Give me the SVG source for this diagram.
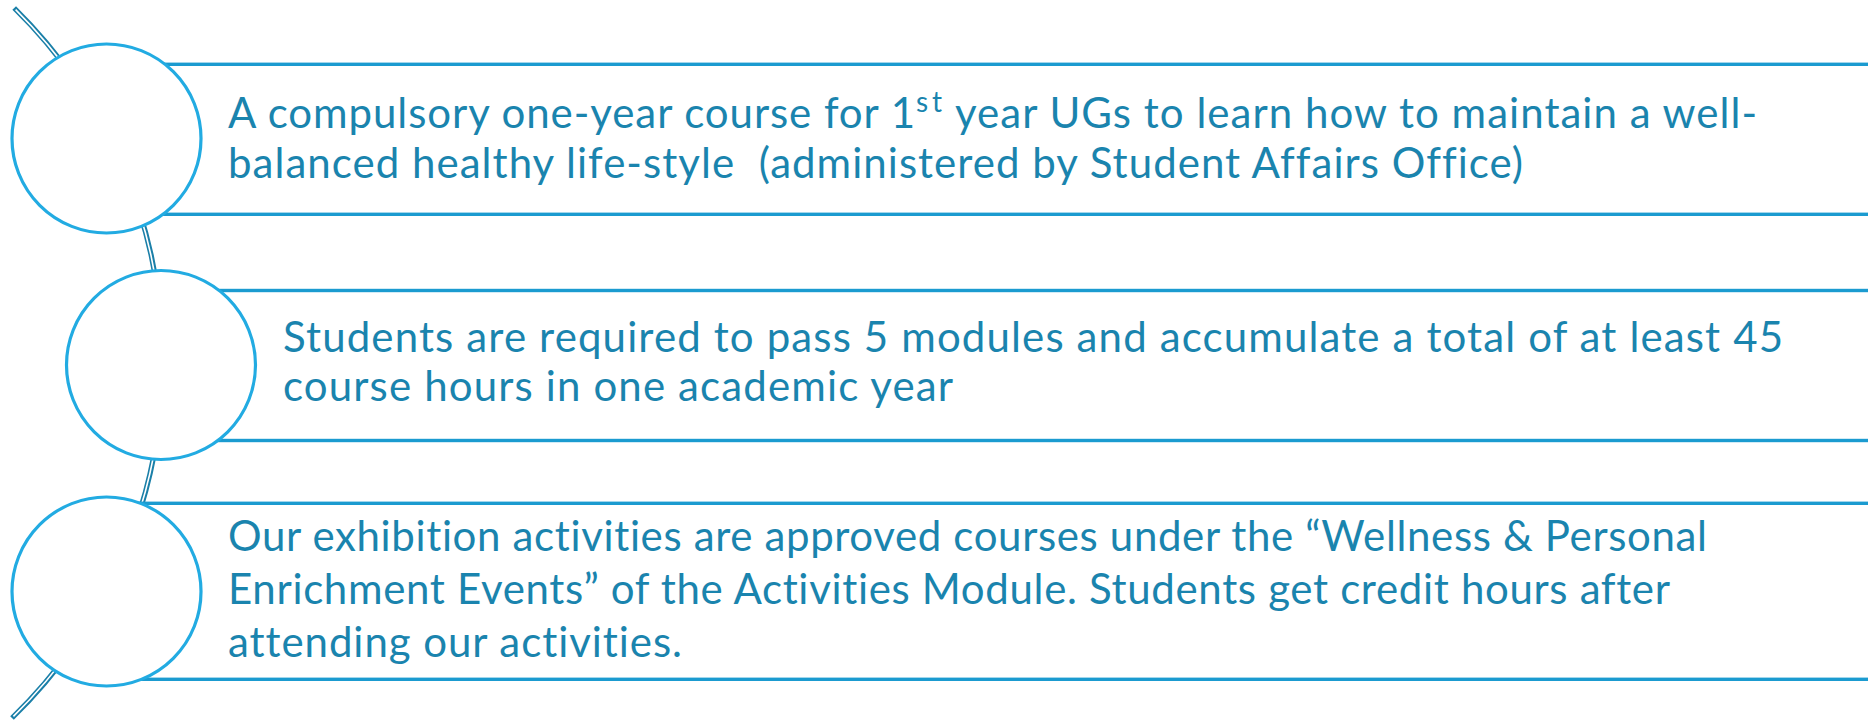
<svg xmlns="http://www.w3.org/2000/svg" width="1868" height="722" viewBox="0 0 1868 722">
<style>
.band{fill:#ffffff;stroke:#1b9bd0;stroke-width:3.4}
.node{fill:#ffffff;stroke:#22abe2;stroke-width:3.2}
.arcOut{fill:none;stroke:#1a7fa8;stroke-width:5.2}
.arcIn{fill:none;stroke:#ffffff;stroke-width:1.6}
.t{font-family:Lato,"Open Sans","Liberation Sans",sans-serif;font-size:42px;fill:#1a84ae;white-space:pre;font-variant-ligatures:none;font-feature-settings:"liga" 0,"clig" 0}
.sup{font-size:28px}
</style>
<rect width="1868" height="722" fill="#ffffff"/>
<g id="connectors">
<path class="arcOut" d="M 14.2 8 A 496 496 0 0 1 12 718"/>
<path class="arcIn" d="M 15.6 9.6 A 496 496 0 0 1 13.4 716.4"/>
</g>
<g id="item1">
<rect class="band" x="107" y="64.3" width="1790" height="150"/>
<circle class="node" cx="106.5" cy="138.5" r="94.5"/>
<text class="t" x="228" y="128" textLength="687" lengthAdjust="spacing">A compulsory one-year course for 1</text>
<text class="t sup" x="916" y="112" textLength="26" lengthAdjust="spacing">st</text>
<text class="t" x="955" y="128" textLength="802" lengthAdjust="spacing">year UGs to learn how to maintain a well-</text>
<text class="t" x="228" y="178" textLength="1295" lengthAdjust="spacing" xml:space="preserve">balanced healthy life-style  (administered by Student Affairs Office)</text>
</g>
<g id="item2">
<rect class="band" x="161" y="290.5" width="1740" height="150"/>
<circle class="node" cx="161" cy="365" r="94.5"/>
<text class="t" x="283" y="352" textLength="1500" lengthAdjust="spacing">Students are required to pass 5 modules and accumulate a total of at least 45</text>
<text class="t" x="283" y="401" textLength="670" lengthAdjust="spacing">course hours in one academic year</text>
</g>
<g id="item3">
<rect class="band" x="107" y="503.3" width="1790" height="176"/>
<circle class="node" cx="106.5" cy="591.5" r="94.5"/>
<text class="t" x="228" y="551" textLength="1479" lengthAdjust="spacing">Our exhibition activities are approved courses under the “Wellness &amp; Personal</text>
<text class="t" x="228" y="604" textLength="1442" lengthAdjust="spacing">Enrichment Events” of the Activities Module. Students get credit hours after</text>
<text class="t" x="228" y="657" textLength="454" lengthAdjust="spacing">attending our activities.</text>
</g>
</svg>
